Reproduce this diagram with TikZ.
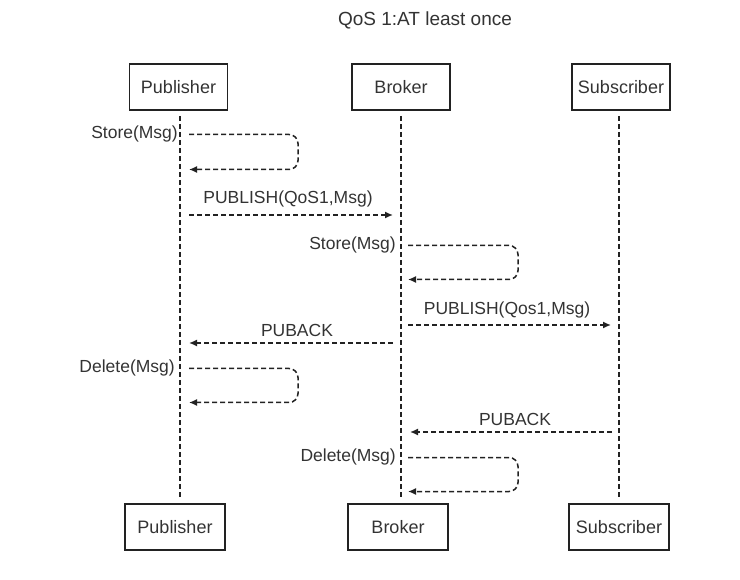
\documentclass[tikz,border=0pt]{standalone}
\usepackage{fontspec}
\setmainfont{Liberation Sans}
\usetikzlibrary{arrows.meta}
\definecolor{ink}{HTML}{222222}
\definecolor{txt}{HTML}{333333}
\begin{document}
\begin{tikzpicture}[x=1pt,y=-1pt,
  actor/.style={draw=ink, line width=1.6pt, minimum width=98pt, minimum height=46pt, inner sep=0pt, text=txt, font=\fontsize{18}{21}\selectfont},
  life/.style={draw=ink, line width=1.5pt, dash pattern=on 5pt off 3pt},
  msg/.style={draw=ink, line width=1.5pt, dash pattern=on 5pt off 3pt, -{Latex[length=8pt,width=7pt]}},
  loopmsg/.style={msg, rounded corners=9pt},
  lbl/.style={text=txt, font=\fontsize{17.5}{20}\selectfont, inner sep=0pt}]
\useasboundingbox (0,0) rectangle (740,580);
\node[text=txt, font=\fontsize{19}{22}\selectfont] (title) at (425,20) {QoS 1:AT least once};
% actors
\node[actor] (pubT) at (178.5,87) {Publisher};
\node[actor] (brkT) at (401,87) {Broker};
\node[actor] (subT) at (621,87) {Subscriber};
\node[actor, minimum width=100pt] (pubB) at (175,527) {Publisher};
\node[actor, minimum width=100pt] (brkB) at (398,527) {Broker};
\node[actor, minimum width=100pt] (subB) at (619,527) {Subscriber};
% lifelines
\coordinate (pubS) at (180,116);
\coordinate (pubE) at (180,498);
\coordinate (brkS) at (401,116);
\coordinate (brkE) at (401,498);
\coordinate (subS) at (619,116);
\coordinate (subE) at (619,498);
\draw[life] (pubS) -- (pubE);
\draw[life] (brkS) -- (brkE);
\draw[life] (subS) -- (subE);
% message 1: Store on publisher
\coordinate (m1a) at (189,134.5);
\coordinate (m1b) at (298,134.5);
\coordinate (m1c) at (298,169.5);
\coordinate (m1d) at (189,169.5);
\draw[loopmsg] (m1a) -- (m1b) -- (m1c) -- (m1d);
\node[lbl, anchor=east] (l1) at (178,134) {Store(Msg)};
% message 2: PUBLISH to broker
\coordinate (m2a) at (189,215);
\coordinate (m2b) at (393,215);
\draw[msg] (m2a) -- (m2b);
\node[lbl] (l2) at (288,199) {PUBLISH(QoS1,Msg)};
% message 3: Store on broker
\coordinate (m3a) at (408,245.5);
\coordinate (m3b) at (518,245.5);
\coordinate (m3c) at (518,279.5);
\coordinate (m3d) at (408,279.5);
\draw[loopmsg] (m3a) -- (m3b) -- (m3c) -- (m3d);
\node[lbl, anchor=east] (l3) at (396,245) {Store(Msg)};
% message 4: PUBLISH to subscriber
\coordinate (m4a) at (408,325);
\coordinate (m4b) at (611,325);
\draw[msg] (m4a) -- (m4b);
\node[lbl] (l4) at (507,310) {PUBLISH(Qos1,Msg)};
% message 5: PUBACK to publisher
\coordinate (m5a) at (393,343);
\coordinate (m5b) at (189,343);
\draw[msg] (m5a) -- (m5b);
\node[lbl] (l5) at (297,330) {PUBACK};
% message 6: Delete on publisher
\coordinate (m6a) at (189,368.5);
\coordinate (m6b) at (298,368.5);
\coordinate (m6c) at (298,402.5);
\coordinate (m6d) at (189,402.5);
\draw[loopmsg] (m6a) -- (m6b) -- (m6c) -- (m6d);
\node[lbl, anchor=east] (l6) at (175,368) {Delete(Msg)};
% message 7: PUBACK to broker
\coordinate (m7a) at (612,432);
\coordinate (m7b) at (410,432);
\draw[msg] (m7a) -- (m7b);
\node[lbl] (l7) at (515,419) {PUBACK};
% message 8: Delete on broker
\coordinate (m8a) at (408,457.5);
\coordinate (m8b) at (518,457.5);
\coordinate (m8c) at (518,491.5);
\coordinate (m8d) at (408,491.5);
\draw[loopmsg] (m8a) -- (m8b) -- (m8c) -- (m8d);
\node[lbl, anchor=east] (l8) at (396,457) {Delete(Msg)};
\end{tikzpicture}
\end{document}
